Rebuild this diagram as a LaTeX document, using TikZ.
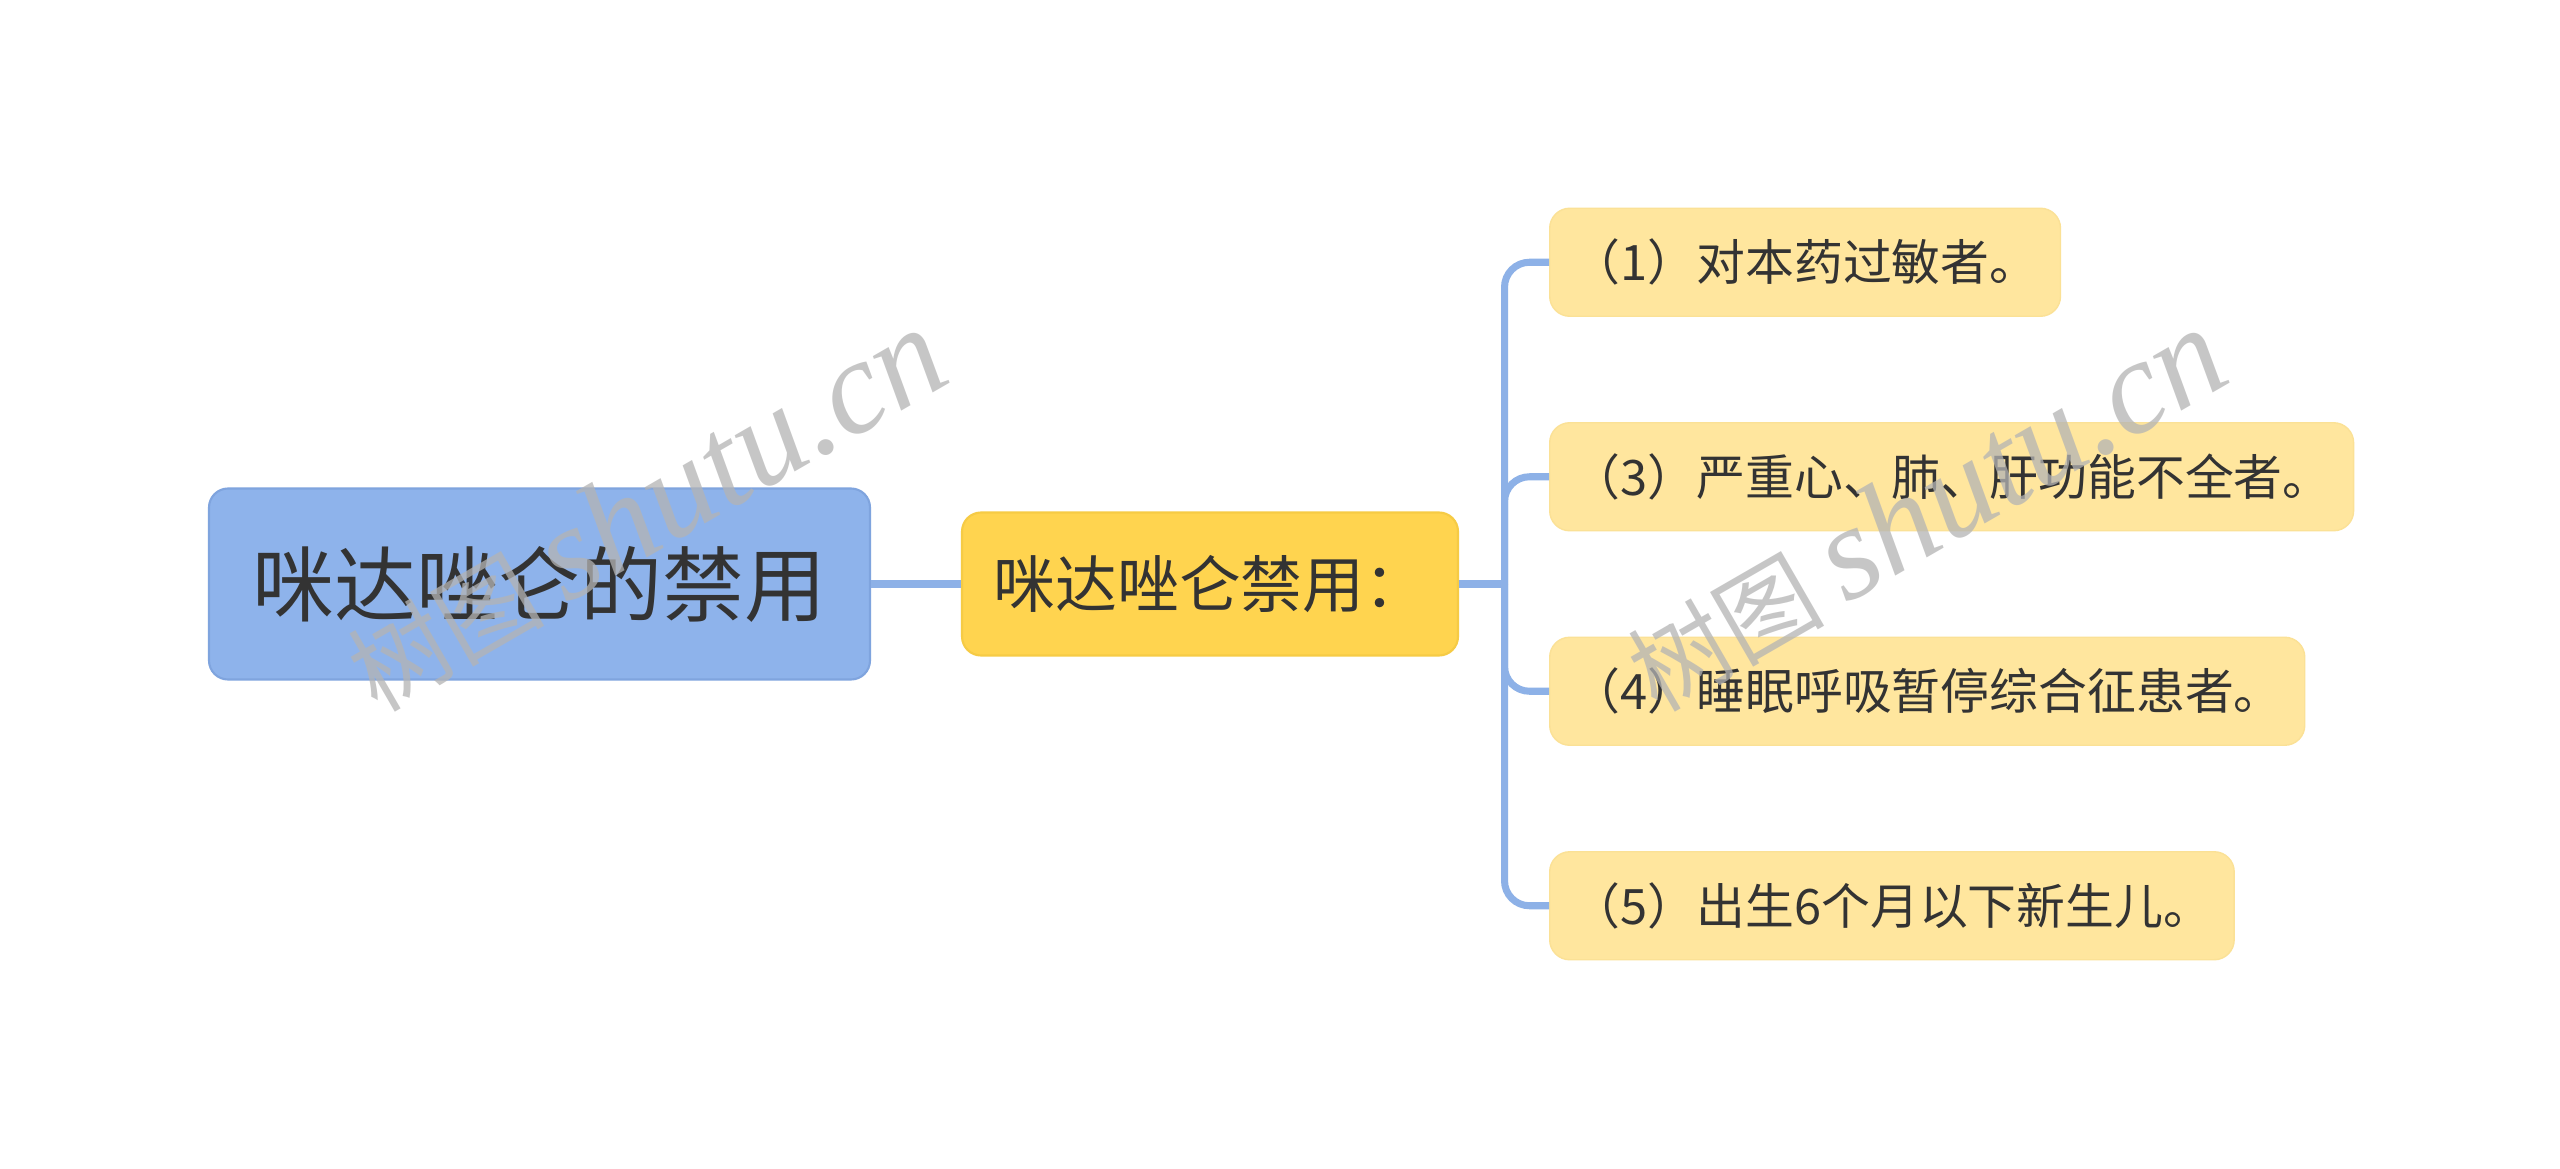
\documentclass[tikz,border=0pt]{standalone}
\usepackage{fontspec}
\setmainfont{Noto Sans CJK SC}
\newfontfamily\wmlatin{Liberation Serif}[ItalicFont={Liberation Serif Italic}]
\usetikzlibrary{positioning}
\definecolor{ink}{HTML}{333333}
\definecolor{rootfill}{HTML}{8EB3EB}
\definecolor{rootedge}{HTML}{7FA4DE}
\definecolor{midfill}{HTML}{FFD44F}
\definecolor{midedge}{HTML}{F6CB45}
\definecolor{leaffill}{HTML}{FFE69E}
\definecolor{leafedge}{HTML}{FBE196}
\definecolor{branch}{HTML}{8DB1E7}
\definecolor{wmgray}{HTML}{B4B4B4}
\tikzset{
  every node/.style={text=ink},
  rootbox/.style={draw=rootedge, line width=0.6pt, fill=rootfill, rounded corners=0.19cm,
                  minimum width=6.61cm, minimum height=1.91cm, inner sep=0pt,
                  font=\fontsize{23.3}{28}\selectfont},
  midbox/.style={draw=midedge, line width=0.6pt, fill=midfill, rounded corners=0.19cm,
                 minimum width=4.96cm, minimum height=1.43cm, inner sep=0pt,
                 font=\fontsize{17.6}{21}\selectfont},
  leafbox/.style={draw=leafedge, line width=0.4pt, fill=leaffill, rounded corners=0.2cm,
                  minimum height=1.08cm, inner xsep=0.22cm, inner ysep=0pt, anchor=west,
                  font=\fontsize{13.9}{17}\selectfont},
  link/.style={draw=branch, line width=2pt},
  wmark/.style={text=wmgray, opacity=0.75, rotate=30, inner sep=0pt,
                font=\fontsize{28}{32}\selectfont},
}
% watermark text: CJK part smaller than the italic latin part
\newcommand{\wmtext}{树图 {\wmlatin\itshape\fontsize{38}{42}\selectfont shutu.cn}}
\begin{document}
\begin{tikzpicture}
\fill[white] (0,0) rectangle (25.6,-11.69);
\useasboundingbox (0,0) rectangle (25.6,-11.69);

% ================= root and first branch =================
\node[rootbox] (root) at (5.395,-5.84) {咪达唑仑的禁用};
\node[midbox] (ban) at (12.10,-5.84) {咪达唑仑禁用：};
\draw[link] (root.east) -- (ban.west);

% ================= leaves =================
\def\lx{15.49}
\node[leafbox] (allergy) at (\lx,-2.6225) {（1）对本药过敏者。};
\node[leafbox] (organ)   at (\lx,-4.7675) {（3）严重心、肺、肝功能不全者。};
\node[leafbox] (apnea)   at (\lx,-6.9125) {（4）睡眠呼吸暂停综合征患者。};
\node[leafbox] (infant)  at (\lx,-9.0575) {（5）出生6个月以下新生儿。};

% spine with rounded elbows into each leaf
\coordinate (fork) at (15.045,-5.84);
\draw[link] (ban.east) -- (fork);
\foreach \leaf in {allergy,organ,apnea,infant}
  \draw[link, rounded corners=0.25cm] (fork) |- (\leaf.west);

% ================= watermark =================
\node[wmark] (wmleft)  at (6.45,-5.10)  {\wmtext};
\node[wmark] (wmright) at (19.25,-5.10) {\wmtext};

\end{tikzpicture}
\end{document}
